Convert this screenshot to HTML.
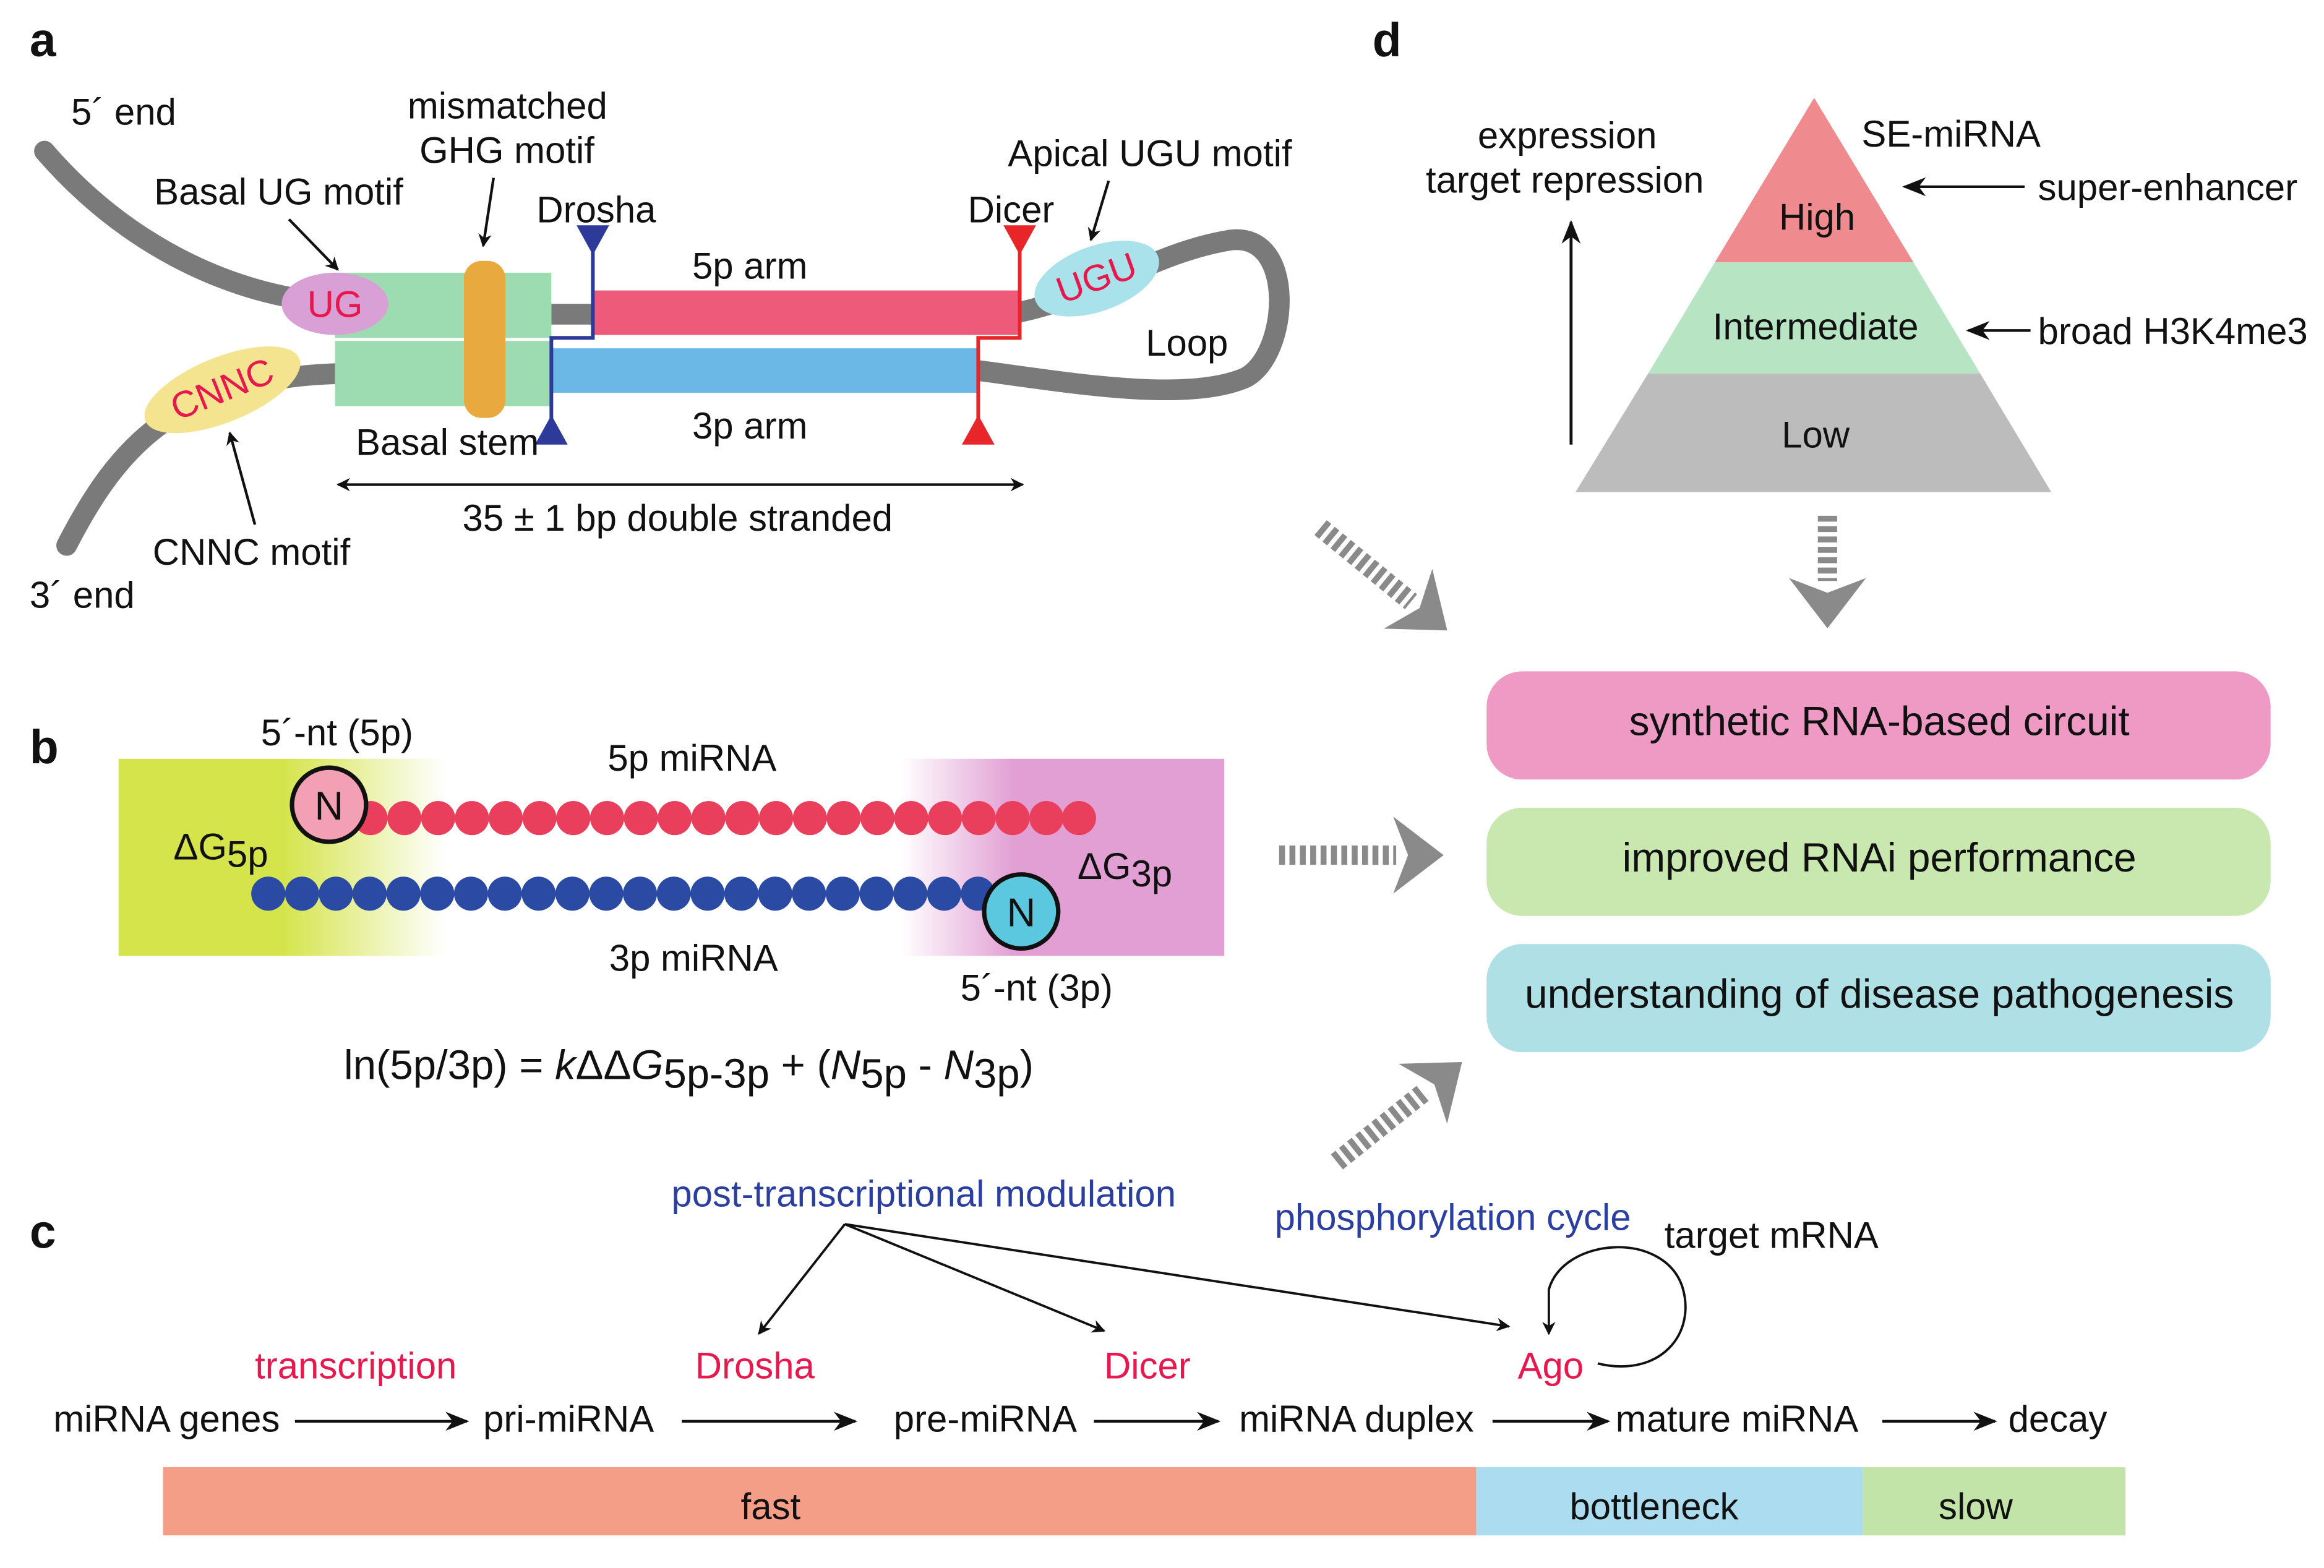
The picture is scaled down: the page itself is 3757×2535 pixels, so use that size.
<!DOCTYPE html>
<html><head><meta charset="utf-8"><style>html,body{margin:0;padding:0;background:#fff}svg{display:block}text{font-family:"Liberation Sans",Arial,sans-serif;fill:#111}</style></head>
<body>
<svg width="3757" height="2535" viewBox="0 0 1568 1058" xmlns="http://www.w3.org/2000/svg">
<defs>
<marker id="ah" viewBox="0 0 10 10" refX="9" refY="5" markerWidth="9" markerHeight="9" orient="auto-start-reverse" markerUnits="userSpaceOnUse"><path d="M0,0 L10,5 L0,10 L3,5 z" fill="#111"/></marker>
<marker id="ahL" viewBox="0 0 10 10" refX="9" refY="5" markerWidth="16" markerHeight="16" orient="auto-start-reverse" markerUnits="userSpaceOnUse"><path d="M0,1 L10,5 L0,9 L3,5 z" fill="#111"/></marker>
<linearGradient id="gy" x1="0" x2="1"><stop offset="0.5" stop-color="#d4e44a"/><stop offset="1" stop-color="#d4e44a" stop-opacity="0"/></linearGradient>
<linearGradient id="gp" x1="0" x2="1"><stop offset="0" stop-color="#e29fd4" stop-opacity="0"/><stop offset="0.35" stop-color="#e29fd4"/></linearGradient>
<g id="chev"><path d="M0,-26 L34,0 L0,26 L10,0 z" fill="#8a8a8a"/></g>
</defs>
<g font-size="25">
<!-- Panel a -->
<text x="20" y="38" font-size="32" font-weight="bold">a</text>
<text x="48" y="84">5´ end</text>
<text x="20" y="410">3´ end</text>
<path d="M30,102 C80,160 150,200 230,205" stroke="#7a7a7a" stroke-width="14" fill="none" stroke-linecap="round"/>
<path d="M45,368 C80,300 120,255 230,252" stroke="#7a7a7a" stroke-width="14" fill="none" stroke-linecap="round"/>
<path d="M372,212 L400,212 M372,250 L400,250" stroke="#7a7a7a" stroke-width="14"/>
<path d="M686,211 C740,200 780,170 830,162 C875,156 870,240 840,255 C800,272 720,258 660,250" stroke="#7a7a7a" stroke-width="14" fill="none"/>
<rect x="226" y="184" width="146" height="90" fill="#9ddbb0"/>
<line x1="226" y1="229" x2="372" y2="229" stroke="#fff" stroke-width="2"/>
<rect x="313" y="176" width="28" height="106" rx="12" fill="#e8a93e"/>
<rect x="400" y="196" width="288" height="30" fill="#ee5a7a"/>
<rect x="372" y="235" width="288" height="30" fill="#6bb8e6"/>
<ellipse cx="226" cy="205" rx="36" ry="21" fill="#d9a0d6"/>
<text x="226" y="214" text-anchor="middle" style="fill:#e8184f">UG</text>
<g transform="translate(150,263) rotate(-22)"><ellipse rx="56" ry="22" fill="#f5e48f"/><text y="8" text-anchor="middle" style="fill:#e8184f">CNNC</text></g>
<g transform="translate(740,188) rotate(-20)"><ellipse rx="44" ry="22" fill="#a9e2ea"/><text y="8" text-anchor="middle" style="fill:#e8184f">UGU</text></g>
<path d="M400,162 L400,228 L372,228 L372,285" stroke="#2d3a9a" stroke-width="2.5" fill="none"/>
<path d="M389,152 L411,152 L400,172 z M372,280 L383,300 L361,300 z" fill="#2d3a9a"/>
<path d="M688,162 L688,228 L660,228 L660,285" stroke="#e8262a" stroke-width="2.5" fill="none"/>
<path d="M677,152 L699,152 L688,172 z M660,280 L671,300 L649,300 z" fill="#e8262a"/>
<text x="104" y="138">Basal UG motif</text>
<line x1="195" y1="148" x2="228" y2="182" stroke="#111" stroke-width="1.8" marker-end="url(#ah)"/>
<text x="275" y="80">mismatched</text><text x="283" y="110">GHG motif</text>
<line x1="333" y1="120" x2="326" y2="166" stroke="#111" stroke-width="1.8" marker-end="url(#ah)"/>
<text x="362" y="150">Drosha</text>
<text x="467" y="188">5p arm</text>
<text x="467" y="296">3p arm</text>
<text x="653" y="150">Dicer</text>
<text x="680" y="112">Apical UGU motif</text>
<line x1="748" y1="122" x2="736" y2="162" stroke="#111" stroke-width="1.8" marker-end="url(#ah)"/>
<text x="773" y="240">Loop</text>
<text x="240" y="307">Basal stem</text>
<text x="103" y="381">CNNC motif</text>
<line x1="172" y1="354" x2="155" y2="292" stroke="#111" stroke-width="1.8" marker-end="url(#ah)"/>
<line x1="228" y1="327" x2="690" y2="327" stroke="#111" stroke-width="1.8" marker-start="url(#ah)" marker-end="url(#ah)"/>
<text x="312" y="358">35 ± 1 bp double stranded</text>

<!-- Panel b -->
<text x="20" y="515" font-size="32" font-weight="bold">b</text>
<rect x="80" y="512" width="220" height="133" fill="url(#gy)"/>
<rect x="608" y="512" width="218" height="133" fill="url(#gp)"/>
<g fill="#ea3f5c">
<circle cx="250" cy="552" r="11.5"/><circle cx="272.8" cy="552" r="11.5"/><circle cx="295.6" cy="552" r="11.5"/><circle cx="318.4" cy="552" r="11.5"/><circle cx="341.2" cy="552" r="11.5"/><circle cx="364" cy="552" r="11.5"/><circle cx="386.8" cy="552" r="11.5"/><circle cx="409.6" cy="552" r="11.5"/><circle cx="432.4" cy="552" r="11.5"/><circle cx="455.2" cy="552" r="11.5"/><circle cx="478" cy="552" r="11.5"/><circle cx="500.8" cy="552" r="11.5"/><circle cx="523.6" cy="552" r="11.5"/><circle cx="546.4" cy="552" r="11.5"/><circle cx="569.2" cy="552" r="11.5"/><circle cx="592" cy="552" r="11.5"/><circle cx="614.8" cy="552" r="11.5"/><circle cx="637.6" cy="552" r="11.5"/><circle cx="660.4" cy="552" r="11.5"/><circle cx="683.2" cy="552" r="11.5"/><circle cx="706" cy="552" r="11.5"/><circle cx="728" cy="552" r="11.5"/>
</g>
<g fill="#2b4aa3">
<circle cx="181" cy="603" r="11.5"/><circle cx="203.8" cy="603" r="11.5"/><circle cx="226.6" cy="603" r="11.5"/><circle cx="249.4" cy="603" r="11.5"/><circle cx="272.2" cy="603" r="11.5"/><circle cx="295" cy="603" r="11.5"/><circle cx="317.8" cy="603" r="11.5"/><circle cx="340.6" cy="603" r="11.5"/><circle cx="363.4" cy="603" r="11.5"/><circle cx="386.2" cy="603" r="11.5"/><circle cx="409" cy="603" r="11.5"/><circle cx="431.8" cy="603" r="11.5"/><circle cx="454.6" cy="603" r="11.5"/><circle cx="477.4" cy="603" r="11.5"/><circle cx="500.2" cy="603" r="11.5"/><circle cx="523" cy="603" r="11.5"/><circle cx="545.8" cy="603" r="11.5"/><circle cx="568.6" cy="603" r="11.5"/><circle cx="591.4" cy="603" r="11.5"/><circle cx="614.2" cy="603" r="11.5"/><circle cx="637" cy="603" r="11.5"/><circle cx="659.8" cy="603" r="11.5"/>
</g>
<circle cx="222" cy="543" r="25" fill="#f3a0b4" stroke="#111" stroke-width="3"/>
<text x="222" y="553" text-anchor="middle" font-size="27">N</text>
<circle cx="689" cy="615" r="25" fill="#5cc8e0" stroke="#111" stroke-width="3"/>
<text x="689" y="625" text-anchor="middle" font-size="27">N</text>
<text x="176" y="503">5´-nt (5p)</text>
<text x="410" y="520">5p miRNA</text>
<text x="117" y="580">ΔG<tspan dy="5">5p</tspan></text>
<text x="727" y="593">ΔG<tspan dy="5">3p</tspan></text>
<text x="411" y="655">3p miRNA</text>
<text x="648" y="675">5´-nt (3p)</text>
<text x="232" y="728" font-size="28">ln(5p/3p) = <tspan font-style="italic">k</tspan>ΔΔ<tspan font-style="italic">G</tspan><tspan dy="6">5p-3p</tspan><tspan dy="-6"> + (</tspan><tspan font-style="italic">N</tspan><tspan dy="6">5p</tspan><tspan dy="-6"> - </tspan><tspan font-style="italic">N</tspan><tspan dy="6">3p</tspan><tspan dy="-6">)</tspan></text>

<!-- Panel c -->
<text x="20" y="842" font-size="32" font-weight="bold">c</text>
<text x="453" y="814" style="fill:#2b3fa0">post-transcriptional modulation</text>
<g stroke="#111" stroke-width="1.6" marker-end="url(#ah)">
<line x1="570" y1="826" x2="512" y2="900"/>
<line x1="570" y1="826" x2="745" y2="898"/>
<line x1="570" y1="826" x2="1018" y2="895"/>
</g>
<text x="860" y="830" style="fill:#2b3fa0">phosphorylation cycle</text>
<text x="1123" y="842">target mRNA</text>
<path d="M1078,920 C1120,930 1145,900 1135,868 C1122,830 1055,835 1045,870 L1045,900" stroke="#111" stroke-width="1.6" fill="none" marker-end="url(#ah)"/>
<text x="172" y="930" style="fill:#e8184f">transcription</text>
<text x="469" y="930" style="fill:#e8184f">Drosha</text>
<text x="745" y="930" style="fill:#e8184f">Dicer</text>
<text x="1024" y="930" style="fill:#e8184f">Ago</text>
<text x="36" y="966">miRNA genes</text>
<text x="326" y="966">pri-miRNA</text>
<text x="603" y="966">pre-miRNA</text>
<text x="836" y="966">miRNA duplex</text>
<text x="1090" y="966">mature miRNA</text>
<text x="1355" y="966">decay</text>
<g stroke="#111" stroke-width="1.8" marker-end="url(#ahL)">
<line x1="199" y1="959" x2="315" y2="959"/>
<line x1="460" y1="959" x2="577" y2="959"/>
<line x1="738" y1="959" x2="822" y2="959"/>
<line x1="1007" y1="959" x2="1085" y2="959"/>
<line x1="1270" y1="959" x2="1346" y2="959"/>
</g>
<rect x="110" y="990" width="886" height="46" fill="#f49e88"/>
<rect x="996" y="990" width="261" height="46" fill="#abdcf0"/>
<rect x="1257" y="990" width="177" height="46" fill="#c2e4a8"/>
<text x="520" y="1025" text-anchor="middle">fast</text>
<text x="1116" y="1025" text-anchor="middle">bottleneck</text>
<text x="1333" y="1025" text-anchor="middle">slow</text>

<!-- Panel d -->
<text x="926" y="38" font-size="32" font-weight="bold">d</text>
<path d="M1224,66 L1291,177 L1157,177 z" fill="#ef8a8e"/>
<path d="M1157,177 L1291,177 L1336,252 L1112,252 z" fill="#b7e5c4"/>
<path d="M1112,252 L1336,252 L1384,332 L1063,332 z" fill="#bcbcbc"/>
<text x="1226" y="155" text-anchor="middle">High</text>
<text x="1225" y="229" text-anchor="middle">Intermediate</text>
<text x="1225" y="302" text-anchor="middle">Low</text>
<text x="1256" y="99">SE-miRNA</text>
<text x="1375" y="135">super-enhancer</text>
<line x1="1366" y1="126" x2="1285" y2="126" stroke="#111" stroke-width="1.8" marker-end="url(#ahL)"/>
<text x="1375" y="232">broad H3K4me3</text>
<line x1="1370" y1="223" x2="1328" y2="223" stroke="#111" stroke-width="1.8" marker-end="url(#ahL)"/>
<text x="997" y="100">expression</text>
<text x="962" y="130">target repression</text>
<line x1="1060" y1="300" x2="1060" y2="150" stroke="#111" stroke-width="2" marker-end="url(#ahL)"/>

<g stroke="#8a8a8a" stroke-width="13" stroke-dasharray="4 3" fill="none">
<line x1="1233" y1="348" x2="1233" y2="392"/>
<line x1="891" y1="356" x2="952" y2="406"/>
<line x1="863" y1="577" x2="942" y2="577"/>
<line x1="902" y1="784" x2="962" y2="736"/>
</g>
<use href="#chev" transform="translate(1233,390) rotate(90)"/>
<use href="#chev" transform="translate(950,404) rotate(39)"/>
<use href="#chev" transform="translate(940,577)"/>
<use href="#chev" transform="translate(960,738) rotate(-39)"/>

<rect x="1003" y="453" width="529" height="73" rx="24" fill="#ee9ac4"/>
<text x="1268" y="496" text-anchor="middle" font-size="27.5">synthetic RNA-based circuit</text>
<rect x="1003" y="545" width="529" height="73" rx="24" fill="#c8e8b0"/>
<text x="1268" y="588" text-anchor="middle" font-size="27.5">improved RNAi performance</text>
<rect x="1003" y="637" width="529" height="73" rx="24" fill="#aee0e6"/>
<text x="1268" y="680" text-anchor="middle" font-size="27.5">understanding of disease pathogenesis</text>
</g>
</svg>
</body></html>
